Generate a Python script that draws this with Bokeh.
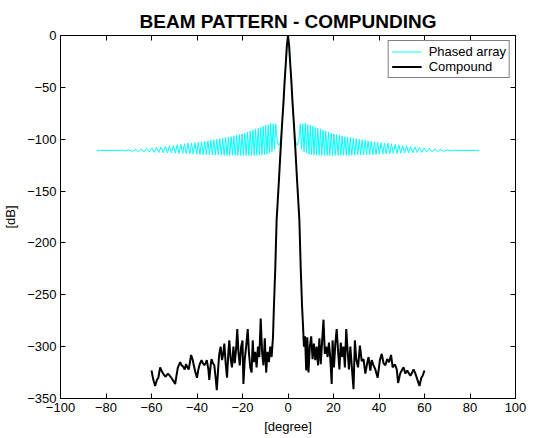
from bokeh.plotting import figure
from bokeh.models import Range1d, LinearAxis, FixedTicker, Legend, LegendItem
from bokeh.embed import file_html
from bokeh.resources import INLINE

# ---------------- data ----------------
x_ticks = [-100, -80, -60, -40, -20, 0, 20, 40, 60, 80, 100]
y_ticks = [-350, -300, -250, -200, -150, -100, -50, 0]

# Phased array: left sidelobes, main lobe, right sidelobes (deg, dB)
phased_left_x = [-84.0, -74.5, -72.8, -71.3, -69.8, -68.4, -67.0, -65.75, -64.5, -63.3, -62.1, -61.0,
                 -59.9, -58.85, -57.8, -56.8, -55.8, -54.85, -53.9, -53.0, -52.1, -51.25, -50.4, -49.55,
                 -48.7, -47.9, -47.1, -46.3, -45.5, -44.7, -43.9, -43.15, -42.4, -41.65, -40.9, -40.15,
                 -39.4, -38.7, -38.0, -37.3, -36.6, -35.9, -35.2, -34.55, -33.9, -33.25, -32.6, -31.95,
                 -31.3, -30.65, -30.0, -29.35, -28.7, -28.05, -27.4, -26.8, -26.2, -25.6, -25.0, -24.4,
                 -23.8, -23.2, -22.6, -22.0, -21.4, -20.8, -20.2, -19.6, -19.0, -18.4, -17.8, -17.2,
                 -16.6, -16.0, -15.4, -14.85, -14.3, -13.7, -13.1, -12.55, -12.0, -11.45, -10.9, -10.35,
                 -9.8, -9.25, -8.7, -8.15, -7.6, -7.05, -6.5, -5.95, -5.4]
phased_left_y = [-110.8, -110.8, -110.6, -111.3, -110.3, -111.7, -110, -112, -109.5, -112.2, -109, -112.5,
                 -108.5, -112.6, -108, -112.8, -107.5, -113, -107, -113.2, -106.5, -113.4, -106, -113.5,
                 -105.5, -113.7, -105, -113.8, -104.5, -114, -104, -114.2, -103.7, -114.4, -103.3, -114.5,
                 -103, -114.7, -102.5, -114.8, -102, -115, -101.5, -115, -101, -115.1, -100.5, -115.2,
                 -100, -115.3, -99.5, -115.5, -99, -115.5, -98.5, -115.5, -98, -115.5, -97.5, -115.5,
                 -97, -115.5, -96, -115.5, -95.5, -115.6, -95, -115.6, -94, -115.6, -93, -115.6,
                 -92, -115.6, -91, -115.6, -90, -115.5, -89.5, -115.5, -88.5, -115, -87.5, -115,
                 -86.5, -114.5, -86, -113.5, -85, -112, -85, -110, -85]
phased_lobe_x = [-4.8, -4.2, -3.6, -3.0, -2.5, -2.0, -1.5, -1.0, -0.5, 0.0,
                 0.5, 1.0, 1.5, 2.0, 2.5, 3.0, 3.6, 4.2, 4.8]
phased_lobe_y = [-100, -106, -104, -98, -82, -65, -45, -28, -10, 0,
                 -10, -28, -45, -65, -82, -98, -104, -106, -100]
phased_right_x = [5.4, 5.95, 6.5, 7.05, 7.6, 8.15, 8.7, 9.25, 9.8, 10.35, 10.9, 11.45,
                  12.0, 12.55, 13.1, 13.7, 14.3, 14.85, 15.4, 16.0, 16.6, 17.2, 17.8, 18.4,
                  19.0, 19.6, 20.2, 20.8, 21.4, 22.0, 22.6, 23.2, 23.8, 24.4, 25.0, 25.6,
                  26.2, 26.8, 27.4, 28.05, 28.7, 29.35, 30.0, 30.65, 31.3, 31.95, 32.6, 33.25,
                  33.9, 34.55, 35.2, 35.9, 36.6, 37.3, 38.0, 38.7, 39.4, 40.15, 40.9, 41.65,
                  42.4, 43.15, 43.9, 44.7, 45.5, 46.3, 47.1, 47.9, 48.7, 49.55, 50.4, 51.25,
                  52.1, 53.0, 53.9, 54.85, 55.8, 56.8, 57.8, 58.85, 59.9, 61.0, 62.1, 63.3,
                  64.5, 65.75, 67.0, 68.4, 69.8, 71.3, 72.8, 74.5, 84.0]
phased_right_y = [-85, -110, -85, -112, -85, -113.5, -86, -114.5, -86.5, -115, -87.5, -115,
                  -88.5, -115.5, -89.5, -115.5, -90, -115.6, -91, -115.6, -92, -115.6, -93, -115.6,
                  -94, -115.6, -95, -115.6, -95.5, -115.5, -96, -115.5, -97, -115.5, -97.5, -115.5,
                  -98, -115.5, -98.5, -115.5, -99, -115.5, -99.5, -115.3, -100, -115.2, -100.5, -115.1,
                  -101, -115, -101.5, -115, -102, -114.8, -102.5, -114.7, -103, -114.5, -103.3, -114.4,
                  -103.7, -114.2, -104, -114, -104.5, -113.8, -105, -113.7, -105.5, -113.5, -106, -113.4,
                  -106.5, -113.2, -107, -113, -107.5, -112.8, -108, -112.6, -108.5, -112.5, -109, -112.2,
                  -109.5, -112, -110, -111.7, -110.3, -111.3, -110.6, -110.8, -110.8]

# Compound: left floor, main lobe, right floor (deg, dB)
compound_left_x = [-60.0, -59.2, -58.4, -57.6, -57.0, -56.2, -55.4, -54.6, -53.8, -52.8, -52.0, -51.3,
                   -50.4, -49.6, -48.8, -48.4, -47.4, -46.8, -46.2, -45.4, -44.8, -44.2, -43.6, -42.6,
                   -42.0, -41.5, -40.8, -40.0, -39.4, -38.8, -38.0, -37.4, -36.8, -36.2, -35.7, -35.0,
                   -34.6, -34.0, -33.6, -33.0, -32.4, -31.8, -31.3, -30.6, -30.2, -29.6, -29.0, -28.4,
                   -28.0, -27.4, -26.8, -26.2, -25.8, -25.2, -24.6, -24.0, -23.4, -22.8, -22.3, -21.8,
                   -21.2, -20.6, -20.0, -19.6, -19.0, -18.4, -17.7, -17.2, -16.6, -16.0, -15.5, -15.0,
                   -14.4, -13.8, -13.2, -12.6, -12.0, -11.4, -10.8, -10.2, -9.6, -9.0, -8.4, -7.8,
                   -7.2, -6.6]
compound_left_y = [-323, -332, -338, -332, -330, -320, -324, -327, -329, -326, -328, -330,
                   -333, -336, -325, -320, -315, -318, -319, -322, -317, -320, -322, -308,
                   -312, -317, -324, -330, -322, -317, -313, -316, -318, -316, -313, -322,
                   -332, -318, -312, -316, -318, -330, -342, -318, -307, -300, -313, -306,
                   -297, -316, -330, -305, -294, -312, -320, -300, -316, -302, -283, -305,
                   -318, -300, -294, -336, -312, -300, -283, -305, -320, -325, -294, -315,
                   -305, -320, -300, -310, -273, -305, -318, -292, -325, -305, -315, -300,
                   -310, -291]
main_lobe_x = [-6.2, -5.6, -5.0, -4.0, -3.0, -2.5, -2.0, -1.5, -1.0, -0.5, 0.0,
               0.5, 1.0, 1.5, 2.0, 2.5, 3.0, 4.0, 5.0, 5.6, 6.2, 6.6]
main_lobe_y = [-262, -225, -178, -140, -100, -82, -65, -45, -28, -10, 0,
               -10, -28, -45, -65, -82, -100, -140, -178, -225, -262, -280]
compound_right_x = [7.0, 7.5, 8.0, 8.5, 9.0, 9.6, 10.2, 10.8, 11.4, 12.0, 12.6, 13.2,
                    13.8, 14.4, 15.0, 15.6, 16.2, 16.8, 17.4, 18.0, 18.6, 19.2, 19.6, 20.2,
                    20.8, 21.4, 22.0, 22.6, 23.2, 23.8, 24.4, 25.0, 25.6, 26.2, 26.8, 27.4,
                    28.0, 28.8, 29.4, 30.0, 30.8, 31.6, 32.4, 33.2, 34.0, 34.8, 35.4, 36.2,
                    36.8, 37.6, 38.4, 39.4, 40.4, 41.2, 42.0, 42.8, 43.6, 44.4, 45.3, 46.0,
                    47.0, 47.8, 48.4, 49.3, 50.2, 50.8, 51.6, 52.4, 53.2, 53.8, 54.6, 55.2,
                    56.0, 56.6, 57.2, 57.8, 58.6, 59.2, 60.0]
compound_right_y = [-300, -290, -323, -291, -325, -300, -290, -312, -297, -313, -300, -318,
                    -292, -317, -295, -274, -307, -300, -310, -296, -312, -336, -294, -320,
                    -297, -283, -304, -322, -296, -310, -300, -320, -283, -304, -322, -300,
                    -318, -341, -294, -312, -320, -299, -314, -312, -326, -316, -310, -323,
                    -313, -318, -322, -330, -313, -307, -316, -318, -312, -315, -308, -320,
                    -317, -322, -335, -326, -322, -320, -326, -323, -326, -328, -325, -322,
                    -326, -330, -334, -338, -330, -328, -323]

assert len(phased_left_x) == len(phased_left_y)
assert len(phased_right_x) == len(phased_right_y)
assert len(compound_left_x) == len(compound_left_y)
assert len(compound_right_x) == len(compound_right_y)

phased_x = phased_left_x + phased_lobe_x + phased_right_x
phased_y = phased_left_y + phased_lobe_y + phased_right_y
compound_x = compound_left_x + main_lobe_x + compound_right_x
compound_y = compound_left_y + main_lobe_y + compound_right_y

FONT = "Liberation Sans"

p = figure(width=533, height=438, output_backend="svg", toolbar_location=None,
           x_range=Range1d(-100, 100), y_range=Range1d(-350, 0),
           min_border_left=60, min_border_right=18, min_border_top=35, min_border_bottom=40,
           title="BEAM PATTERN - COMPUNDING")
p.background_fill_color = "white"
p.border_fill_color = "white"
p.outline_line_color = "black"
p.outline_line_alpha = 1.0
p.xgrid.visible = False
p.ygrid.visible = False

p.title.align = "center"
p.title.text_font = FONT
p.title.text_font_size = "19px"
p.title.text_font_style = "bold"
p.title.text_color = "black"
p.title.standoff = 7
p.title.offset = 2

xa = p.xaxis[0]
ya = p.yaxis[0]
xa.ticker = FixedTicker(ticks=x_ticks)
ya.ticker = FixedTicker(ticks=y_ticks)
xa.axis_label = "[degree]"
ya.axis_label = "[dB]"
for ax in (xa, ya):
    ax.major_tick_in = 5
    ax.major_tick_out = 0
    ax.minor_tick_line_color = None
    ax.major_tick_line_color = "black"
    ax.axis_line_color = "black"
    ax.major_label_text_font = FONT
    ax.major_label_text_font_size = "13px"
    ax.major_label_text_color = "black"
    ax.major_label_standoff = 4
    ax.axis_label_text_font = FONT
    ax.axis_label_text_font_size = "13px"
    ax.axis_label_text_font_style = "normal"
    ax.axis_label_text_color = "black"
ya.axis_label_standoff = 6
xa.axis_label_standoff = 4

top = LinearAxis(ticker=FixedTicker(ticks=x_ticks), major_label_text_font_size="0px",
                 major_label_text_color=None,
                 major_tick_in=5, major_tick_out=0, minor_tick_line_color=None,
                 major_label_standoff=0)
right = LinearAxis(ticker=FixedTicker(ticks=y_ticks), major_label_text_font_size="0px",
                   major_label_text_color=None,
                   major_tick_in=5, major_tick_out=0, minor_tick_line_color=None,
                   major_label_standoff=0)
p.add_layout(top, "above")
p.add_layout(right, "right")

r_ph = p.line(phased_x, phased_y, line_color="#00FFFF", line_width=1)
r_co = p.line(compound_x, compound_y, line_color="black", line_width=2)

legend = Legend(items=[LegendItem(label="Phased array", renderers=[r_ph]),
                       LegendItem(label="Compound", renderers=[r_co])],
                location="top_right")
legend.margin = 5
legend.padding = 3
legend.spacing = 0
legend.glyph_width = 30
legend.glyph_height = 15
legend.label_height = 15
legend.label_standoff = 7
legend.label_text_font = FONT
legend.label_text_font_size = "13px"
legend.label_text_color = "black"
legend.border_line_color = "black"
legend.border_line_width = 1
legend.background_fill_color = "white"
legend.background_fill_alpha = 1.0
p.add_layout(legend)

open("out.html", "w").write(file_html(p, INLINE))
